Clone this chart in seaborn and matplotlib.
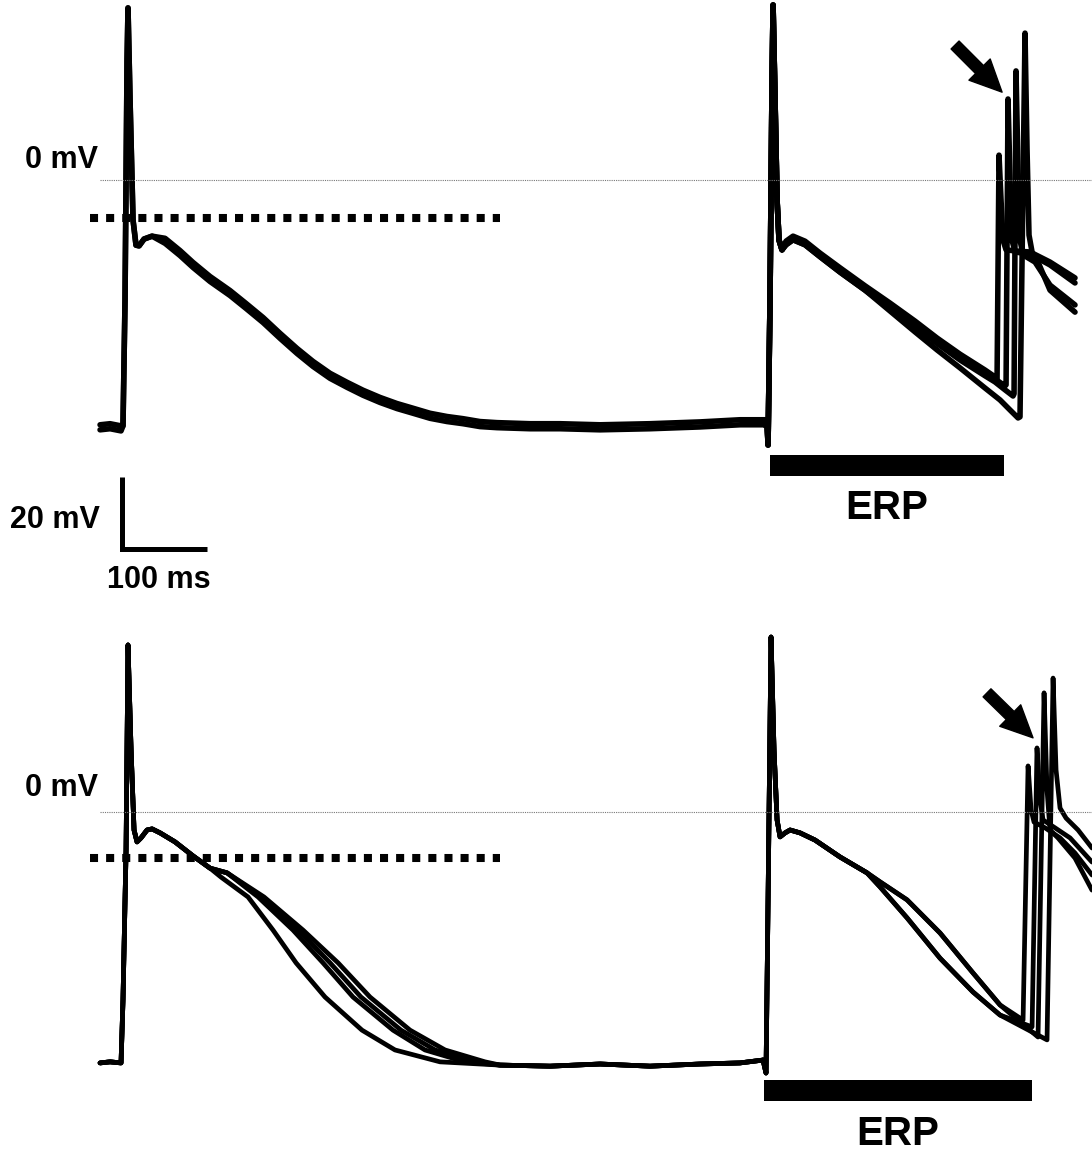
import matplotlib
matplotlib.use("Agg")
import matplotlib.pyplot as plt
import pandas as pd
import seaborn as sns

# ---------------- data (time in ms, membrane potential in mV) ----------------
# Top panel, first (S1) beat: two overlapping sweeps
TOP_B1_T = [-29.4, -17.6, -4.7, -2.4, 0.0, 2.4, 3.5, 5.9, 9.4, 12.9, 16.5, 22.4, 31.8,
            47.1, 64.7, 80.0, 100.0, 123.5, 142.4, 162.4, 182.4, 202.4, 221.2, 241.2, 261.2,
            280.0, 300.0, 320.0, 338.8, 358.8, 378.8, 397.6, 417.6, 437.6, 476.5, 511.8,
            558.8, 617.6, 676.5, 723.5, 752.9]
TOP_B1_A = [-68.0, -67.7, -68.3, -68.3, -33.3, 33.3, 47.8, 22.2, -11.1, -18.1, -18.3, -16.4, -15.6,
            -16.2, -19.6, -22.9, -26.8, -30.7, -34.3, -38.2, -42.6, -46.8, -50.4, -53.7, -56.2,
            -58.4, -60.4, -62.1, -63.4, -64.8, -65.7, -66.3, -67.1, -67.4, -67.7, -67.7,
            -68.0, -67.7, -67.2, -66.6, -66.6]
TOP_B1_B = [-69.4, -69.1, -69.7, -68.3, -33.3, 33.3, 47.8, 22.2, -11.1, -18.1, -18.3, -16.4, -15.6,
            -17.6, -21.0, -24.3, -28.2, -32.1, -35.7, -39.6, -44.0, -48.2, -51.8, -55.1, -57.6,
            -59.8, -61.8, -63.5, -64.8, -66.2, -67.1, -67.7, -68.5, -68.8, -69.1, -69.1,
            -69.4, -69.1, -68.6, -68.0, -68.0]

# Top panel, last S1 beat followed by premature (S2) beats
TOP_S2_1_T = [752.9, 755.3, 756.5, 758.8, 761.2, 762.4, 764.7, 767.1, 769.4, 772.9, 777.6, 785.9,
              800.0, 817.6, 841.2, 870.6, 900.0, 929.4, 955.3, 982.4, 1011.8, 1023.5, 1025.9,
              1028.2, 1030.6, 1032.9, 1036.5, 1047.1, 1064.7, 1088.2, 1117.6]
TOP_S2_1_V = [-66.9, -66.6, -73.6, -33.3, 27.8, 48.6, 22.2, -5.6, -16.7, -19.4, -17.0, -15.6,
              -17.0, -20.3, -24.4, -29.4, -34.2, -39.2, -43.9, -48.4, -52.8, -54.7, -55.3,
              6.9, -5.6, -16.7, -19.4, -19.7, -20.0, -22.8, -27.2]
TOP_S2_2_T = [752.9, 755.3, 756.5, 758.8, 761.2, 762.4, 764.7, 767.1, 769.4, 772.9, 777.6, 785.9,
              800.0, 817.6, 841.2, 870.6, 900.0, 929.4, 955.3, 982.4, 1011.8, 1023.5, 1035.3,
              1036.5, 1038.8, 1041.2, 1043.5, 1047.1, 1064.7, 1088.2, 1117.6]
TOP_S2_2_V = [-67.5, -67.2, -73.6, -33.3, 27.8, 48.6, 22.2, -5.6, -16.7, -19.4, -17.5, -16.1,
              -17.5, -20.8, -25.0, -30.0, -35.0, -40.0, -44.7, -49.2, -53.6, -55.3, -57.2,
              -56.9, 22.5, 0.0, -16.7, -20.0, -20.6, -23.6, -28.6]
TOP_S2_3_T = [752.9, 755.3, 756.5, 758.8, 761.2, 762.4, 764.7, 767.1, 769.4, 772.9, 777.6, 785.9,
              800.0, 817.6, 841.2, 870.6, 900.0, 929.4, 955.3, 982.4, 1011.8, 1023.5, 1035.3,
              1044.7, 1045.9, 1048.2, 1050.6, 1052.9, 1056.5, 1070.6, 1088.2, 1117.6]
TOP_S2_3_V = [-68.1, -67.8, -73.6, -33.3, 27.8, 48.6, 22.2, -5.6, -16.7, -19.4, -18.0, -16.6,
              -18.0, -21.3, -25.6, -30.6, -35.7, -40.7, -45.4, -50.0, -54.4, -56.1, -58.3,
              -60.0, -59.4, 30.3, 2.8, -16.7, -20.8, -22.8, -29.2, -34.7]
TOP_S2_4_T = [752.9, 755.3, 756.5, 758.8, 761.2, 762.4, 764.7, 767.1, 769.4, 772.9, 777.6, 785.9,
              800.0, 817.6, 841.2, 870.6, 900.0, 929.4, 955.3, 982.4, 1011.8, 1029.4, 1041.2,
              1050.6, 1052.9, 1058.8, 1061.2, 1063.5, 1067.1, 1074.1, 1088.2, 1117.6]
TOP_S2_4_V = [-68.1, -67.8, -73.6, -33.3, 27.8, 48.6, 22.2, -5.6, -16.7, -19.4, -18.0, -16.6,
              -18.0, -21.3, -25.6, -30.6, -36.4, -42.2, -47.2, -52.2, -57.8, -61.1, -63.9,
              -66.1, -65.8, 40.8, 8.3, -15.3, -20.0, -22.8, -30.6, -36.7]

# Bottom panel, first beat: four sweeps that separate during repolarisation
BOT_COMMON_T = [-29.4, -17.6, -4.7, -2.4, 1.2, 3.5, 7.1, 10.6, 14.1, 18.8, 25.9, 31.8, 41.2, 58.8, 80.0, 100.0]
BOT_COMMON_V = [-69.7, -69.4, -69.7, -52.2, -10.6, 46.4, 17.2, -5.0, -8.3, -7.2, -5.0, -4.7, -5.8, -8.3, -12.2, -15.6]
BOT_BASE_T = [441.2, 500.0, 558.8, 617.6, 676.5, 723.5, 750.6]
BOT_BASE_V = [-70.3, -70.6, -70.0, -70.6, -70.0, -69.7, -68.9]
BOT_REPOL_V = [-16.9, -23.6, -32.8, -41.9, -51.4, -60.6, -66.1, -69.4]
BOT_E_T = [113.0, 144.7, 174.1, 201.2, 235.3, 278.8, 317.6, 370.6]
BOT_L1_T = [120.0, 156.5, 197.6, 232.9, 268.2, 315.3, 352.9, 400.0]
BOT_L2_T = [120.0, 160.0, 203.5, 241.2, 277.6, 324.7, 364.7, 411.8]
BOT_L3_T = [120.0, 163.5, 209.4, 250.6, 288.2, 335.3, 376.5, 423.5]

# Bottom panel, last S1 beat followed by premature beats
BOT_S1_T = [750.6, 754.1, 756.5, 760.0, 763.5, 767.1, 770.6, 776.5, 782.4, 794.1, 811.8, 841.2, 872.9]
BOT_S1_V = [-68.9, -72.5, -24.4, 48.6, 17.2, -2.2, -6.9, -5.8, -5.0, -5.8, -7.8, -12.5, -16.9]
BOT_UP_T = [888.2, 920.0, 958.8, 997.6, 1029.4]
BOT_UP_V = [-19.4, -24.4, -33.6, -44.7, -53.6]
BOT_LO_T = [888.2, 920.0, 958.8, 997.6, 1029.4]
BOT_LO_V = [-20.8, -29.4, -40.6, -50.0, -56.4]
BOT_P1_T = [1056.5, 1062.4, 1065.9, 1069.4, 1082.4, 1100.0, 1117.6, 1137.6]
BOT_P1_V = [-57.8, 12.8, 0.6, -2.8, -4.4, -7.2, -11.4, -17.5]
BOT_P2_T = [1067.1, 1072.9, 1076.5, 1080.0, 1094.1, 1111.8, 1137.6]
BOT_P2_V = [-59.7, 17.8, 3.3, -2.2, -4.4, -7.2, -13.9]
BOT_P3_T = [1074.1, 1081.2, 1084.7, 1088.2, 1097.6, 1117.6, 1137.6]
BOT_P3_V = [-62.5, 33.1, 6.1, -5.0, -7.2, -12.8, -21.7]
BOT_P4_T = [1084.7, 1091.8, 1095.3, 1100.0, 1107.1, 1121.2, 1137.6]
BOT_P4_V = [-63.3, 37.2, 11.7, 1.1, -1.7, -5.0, -10.0]

# Annotations
DOTTED_SPAN = [-41.2, 441.2]
DOTTED_LEVEL = {"top": -10.6, "bot": -12.8}
ERP_TOP = [758.8, 1034.1]
ERP_BOT = [751.8, 1067.1]
SCALE_ORIGIN = (-3.5, -102.5)
SCALE_MS, SCALE_MV = 100, 20
ARROW_TOP = [(976.5, 37.5), (1031.8, 24.4)]
ARROW_BOT = [(1014.1, 33.1), (1068.2, 20.6)]

# ---------------- figure ----------------
sns.set_theme(style="white")
plt.rcParams["font.family"] = ["Liberation Sans", "DejaVu Sans"]

fig = plt.figure(figsize=(10.92, 11.57), dpi=100)
ax_top = fig.add_axes([0, 0.5, 1, 0.5])
ax_bot = fig.add_axes([0, 0, 1, 0.5])


def draw(ax, traces, lw):
    frames = []
    for name, (t, v) in traces.items():
        frames.append(pd.DataFrame({"t": t, "v": v, "trace": name}))
    df = pd.concat(frames, ignore_index=True)
    sns.lineplot(data=df, x="t", y="v", units="trace", estimator=None, sort=False,
                 color="black", lw=lw, legend=False, ax=ax,
                 solid_capstyle="round", solid_joinstyle="round")


top_traces = {
    "b1a": (TOP_B1_T, TOP_B1_A),
    "b1b": (TOP_B1_T, TOP_B1_B),
    "s1": (TOP_S2_1_T, TOP_S2_1_V),
    "s2": (TOP_S2_2_T, TOP_S2_2_V),
    "s3": (TOP_S2_3_T, TOP_S2_3_V),
    "s4": (TOP_S2_4_T, TOP_S2_4_V),
}
draw(ax_top, top_traces, 4.0)

bot_traces = {}
for name, tt in [("E", BOT_E_T), ("L1", BOT_L1_T), ("L2", BOT_L2_T), ("L3", BOT_L3_T)]:
    v_first = list(BOT_REPOL_V)
    if name == "E":
        v_first[0] = -18.1
    bot_traces[name] = (BOT_COMMON_T + tt + BOT_BASE_T, BOT_COMMON_V + v_first + BOT_BASE_V)
bot_traces["P1"] = (BOT_S1_T + BOT_UP_T + BOT_P1_T, BOT_S1_V + BOT_UP_V + BOT_P1_V)
bot_traces["P2"] = (BOT_S1_T + BOT_LO_T + BOT_P2_T, BOT_S1_V + BOT_LO_V + BOT_P2_V)
bot_traces["P3"] = (BOT_S1_T + BOT_UP_T + BOT_P3_T, BOT_S1_V + BOT_UP_V + BOT_P3_V)
bot_traces["P4"] = (BOT_S1_T + BOT_LO_T + BOT_P4_T, BOT_S1_V + BOT_LO_V + BOT_P4_V)
draw(ax_bot, bot_traces, 3.4)

bold = dict(fontweight="bold", color="black")
for ax, key, erp, erp_v, erp_h, erp_txt, arrow, zero_lbl in [
        (ax_top, "top", ERP_TOP, -79.3, 5.8, (896.5, -91.1), ARROW_TOP, 5.5),
        (ax_bot, "bot", ERP_BOT, -77.35, 5.9, (909.4, -89.4), ARROW_BOT, 6.7)]:
    # 0 mV reference line
    ax.hlines(0, -29.4, 1140, color="#777777", lw=0.8, linestyle=(0, (1, 1)))
    ax.text(-31.8, zero_lbl, "0 mV", ha="right", va="center", fontsize=22, **bold)
    # dotted level line
    ax.plot(DOTTED_SPAN, [DOTTED_LEVEL[key]] * 2, color="black", lw=5.8,
            linestyle=(0, (1, 1)), dash_capstyle="butt")
    # ERP bar
    ax.barh(y=erp_v, width=erp[1] - erp[0], left=erp[0], height=erp_h,
            color="black", edgecolor="black", lw=0)
    ax.text(erp_txt[0], erp_txt[1], "ERP", ha="center", va="center", fontsize=29, **bold)
    # arrow
    ax.annotate("", xy=arrow[1], xytext=arrow[0],
                arrowprops=dict(arrowstyle="simple,head_length=0.85,head_width=0.8,tail_width=0.3",
                                color="black", shrinkA=0, shrinkB=0, mutation_scale=27))

# scale bar
x0, y0 = SCALE_ORIGIN
ax_top.plot([x0, x0, x0 + SCALE_MS], [y0 + SCALE_MV, y0, y0], color="black", lw=3.6,
            solid_joinstyle="miter", solid_capstyle="butt", clip_on=False)
ax_top.text(-29.4, -94.4, "20 mV", ha="right", va="center", fontsize=22, **bold)
ax_top.text(40, -111.1, "100 ms", ha="center", va="center", fontsize=22, **bold)

ax_top.set_xlim(-147.1, 1137.6)
ax_top.set_ylim(-110.7, 50)
ax_bot.set_xlim(-147.1, 1137.6)
ax_bot.set_ylim(-95.83, 64.86)
for ax in (ax_top, ax_bot):
    ax.axis("off")
    for line in ax.lines:
        line.set_clip_on(False)

fig.savefig("out.png", dpi=100)
